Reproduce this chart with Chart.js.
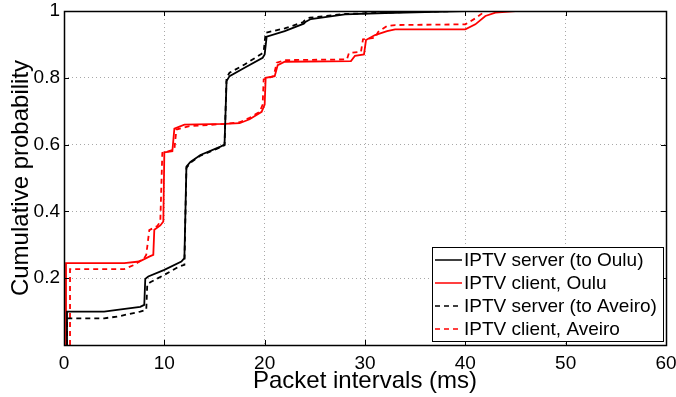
<!DOCTYPE html>
<html><head><meta charset="utf-8">
<script src="https://cdn.jsdelivr.net/npm/chart.js@4.4.1/dist/chart.umd.min.js"></script>
<style>html,body{margin:0;padding:0;background:#fff}</style>
</head><body>
<canvas id="c" width="676" height="397" style="width:676px;height:397px"></canvas>
<script>
const seriesNames = ['IPTV server (to Oulu)', 'IPTV client, Oulu', 'IPTV server (to Aveiro)', 'IPTV client, Aveiro'];
const xTickValues = [0, 10, 20, 30, 40, 50, 60];
const yTickValues = [0, 0.2, 0.4, 0.6, 0.8, 1];

const serverOuluX = [0.3, 0.3, 4, 5.3, 7.6, 8.0, 8.1, 8.4, 10, 11.7, 12.0, 12.2, 12.6, 13.6, 15.6, 16.0, 16.2, 16.5, 18, 19.8, 20.0, 20.2, 22, 23.9, 24.1, 24.6, 28, 32, 36, 40, 60];
const serverOuluY = [0, 0.1, 0.1, 0.105, 0.114, 0.12, 0.198, 0.205, 0.225, 0.25, 0.26, 0.534, 0.548, 0.569, 0.594, 0.6, 0.79, 0.805, 0.83, 0.86, 0.87, 0.923, 0.94, 0.962, 0.968, 0.976, 0.99, 0.994, 0.997, 1, 1];

const clientOuluX = [0.2, 0.2, 6, 7.5, 8.6, 8.9, 9.0, 9.6, 9.9, 10.0, 10.8, 11.0, 12.0, 16, 17.5, 18.5, 19.7, 20.0, 20.1, 21.0, 21.3, 22, 28.6, 29.0, 29.9, 30.1, 31, 32.2, 33, 40, 41, 42, 43, 45, 60];
const clientOuluY = [0, 0.245, 0.245, 0.25, 0.266, 0.27, 0.345, 0.358, 0.37, 0.577, 0.58, 0.648, 0.66, 0.662, 0.664, 0.676, 0.698, 0.72, 0.8, 0.805, 0.838, 0.848, 0.85, 0.866, 0.87, 0.913, 0.928, 0.94, 0.945, 0.945, 0.96, 0.985, 0.995, 1, 1];

const serverAveiroX = [0.3, 0.3, 4, 5.3, 7.6, 8.2, 8.3, 8.6, 10, 11.4, 12.0, 12.2, 12.6, 13.6, 15.6, 16.0, 16.2, 16.5, 18, 19.7, 19.9, 20.1, 22, 23.8, 24.0, 24.5, 28, 32, 36, 40, 60];
const serverAveiroY = [0, 0.08, 0.08, 0.085, 0.1, 0.105, 0.182, 0.188, 0.21, 0.234, 0.24, 0.53, 0.546, 0.567, 0.592, 0.598, 0.8, 0.815, 0.84, 0.872, 0.878, 0.935, 0.948, 0.966, 0.972, 0.98, 0.991, 0.995, 0.998, 1, 1];

const clientAveiroX = [0.6, 0.6, 6, 7, 8.0, 8.2, 8.5, 9.3, 9.6, 9.8, 11.0, 11.2, 12.5, 16, 17.5, 18.5, 19.5, 19.8, 19.9, 20.9, 21.2, 22, 28.2, 28.4, 29.6, 29.8, 31.0, 31.3, 32.2, 33, 40, 41, 42, 60];
const clientAveiroY = [0, 0.227, 0.227, 0.24, 0.26, 0.27, 0.344, 0.356, 0.37, 0.575, 0.585, 0.645, 0.655, 0.662, 0.667, 0.68, 0.698, 0.72, 0.795, 0.805, 0.845, 0.853, 0.855, 0.874, 0.878, 0.915, 0.92, 0.937, 0.955, 0.958, 0.96, 0.978, 1, 1];

function pts(xs, ys) { return xs.map((x, i) => ({x: x, y: ys[i]})); }

const FONT = '"Liberation Sans", Arial, Helvetica, sans-serif';

const frameTicks = {
  id: 'frameTicks',
  afterDatasetsDraw(chart) {
    const {ctx, chartArea: a, scales: {x, y}} = chart;
    ctx.save();
    ctx.strokeStyle = '#000';
    ctx.lineWidth = 1;
    ctx.setLineDash([]);
    ctx.beginPath();
    const L = 5;
    xTickValues.forEach(v => {
      const px = Math.round(x.getPixelForValue(v)) + 0.5;
      ctx.moveTo(px, a.bottom); ctx.lineTo(px, a.bottom - L);
      ctx.moveTo(px, a.top); ctx.lineTo(px, a.top + L);
    });
    yTickValues.forEach(v => {
      const py = Math.round(y.getPixelForValue(v)) + 0.5;
      ctx.moveTo(a.left, py); ctx.lineTo(a.left + L, py);
      ctx.moveTo(a.right, py); ctx.lineTo(a.right - L, py);
    });
    ctx.stroke();
    ctx.lineWidth = 1.5;
    ctx.strokeRect(Math.round(a.left) + 0.5, Math.round(a.top) + 0.5, Math.round(a.right - a.left), Math.round(a.bottom - a.top));
    ctx.restore();
  },
  afterDraw(chart) {
    const {ctx} = chart;
    const ds = chart.data.datasets;
    const bx = 432, by = 247, bw = 231, bh = 94;
    ctx.save();
    ctx.fillStyle = '#fff';
    ctx.fillRect(bx, by, bw, bh);
    ctx.strokeStyle = '#000';
    ctx.lineWidth = 1;
    ctx.strokeRect(bx + 0.5, by + 0.5, bw, bh);
    ctx.font = '19px ' + FONT;
    ctx.textBaseline = 'middle';
    ctx.fillStyle = '#000';
    ds.forEach((d, i) => {
      const cy = by + 13 + i * 23;
      ctx.beginPath();
      ctx.strokeStyle = d.borderColor;
      ctx.lineWidth = 1.5;
      ctx.setLineDash(d.borderDash || []);
      ctx.moveTo(435, cy); ctx.lineTo(462, cy);
      ctx.stroke();
      ctx.setLineDash([]);
      ctx.fillText(d.label, 464, cy + 1);
    });
    ctx.restore();
  }
};

new Chart(document.getElementById('c'), {
  type: 'scatter',
  data: {
    datasets: [
      {label: seriesNames[0], data: pts(serverOuluX, serverOuluY), borderColor: '#000', borderWidth: 1.8},
      {label: seriesNames[1], data: pts(clientOuluX, clientOuluY), borderColor: '#ff0000', borderWidth: 1.8},
      {label: seriesNames[2], data: pts(serverAveiroX, serverAveiroY), borderColor: '#000', borderWidth: 1.8, borderDash: [5, 4]},
      {label: seriesNames[3], data: pts(clientAveiroX, clientAveiroY), borderColor: '#ff0000', borderWidth: 1.8, borderDash: [5, 4]}
    ].map(d => Object.assign(d, {showLine: true, pointRadius: 0, pointHoverRadius: 0, fill: false, tension: 0}))
  },
  options: {
    responsive: false,
    animation: false,
    devicePixelRatio: 1,
    layout: {padding: {left: 0, top: 11, right: 10, bottom: 0}},
    plugins: {legend: {display: false}, tooltip: {enabled: false}},
    scales: {
      x: {
        type: 'linear', min: 0, max: 60,
        afterFit(s) { s.height = 52; s.paddingLeft = 0; s.paddingRight = 0; },
        afterBuildTicks(s) { s.ticks = xTickValues.map(v => ({value: v})); },
        ticks: {color: '#000', font: {family: FONT, size: 19}, padding: 7, maxRotation: 0,
                callback: v => String(v)},
        grid: {color: c => (c.tick && (c.tick.value === 0 || c.tick.value === 60)) ? 'rgba(0,0,0,0)' : '#a8a8a8', lineWidth: 1, drawTicks: false},
        border: {display: false, dash: [1, 3]},
        title: {display: true, text: 'Packet intervals (ms)', color: '#000', font: {family: FONT, size: 24}, padding: {top: 0, bottom: 1}}
      },
      y: {
        type: 'linear', min: 0, max: 1,
        afterFit(s) { s.width = 64; s.paddingTop = 0; s.paddingBottom = 0; },
        afterBuildTicks(s) { s.ticks = yTickValues.map(v => ({value: v})); },
        ticks: {color: '#000', font: {family: FONT, size: 19}, padding: 4,
                callback: v => v === 0 ? '' : (v === 1 ? '1' : v.toFixed(1))},
        grid: {color: c => (c.tick && (c.tick.value === 0 || c.tick.value === 1)) ? 'rgba(0,0,0,0)' : '#a8a8a8', lineWidth: 1, drawTicks: false},
        border: {display: false, dash: [1, 3]},
        title: {display: true, text: 'Cumulative probability', color: '#000', font: {family: FONT, size: 24}, padding: {top: 7, bottom: 0}}
      }
    }
  },
  plugins: [frameTicks]
});
</script>
</body></html>
